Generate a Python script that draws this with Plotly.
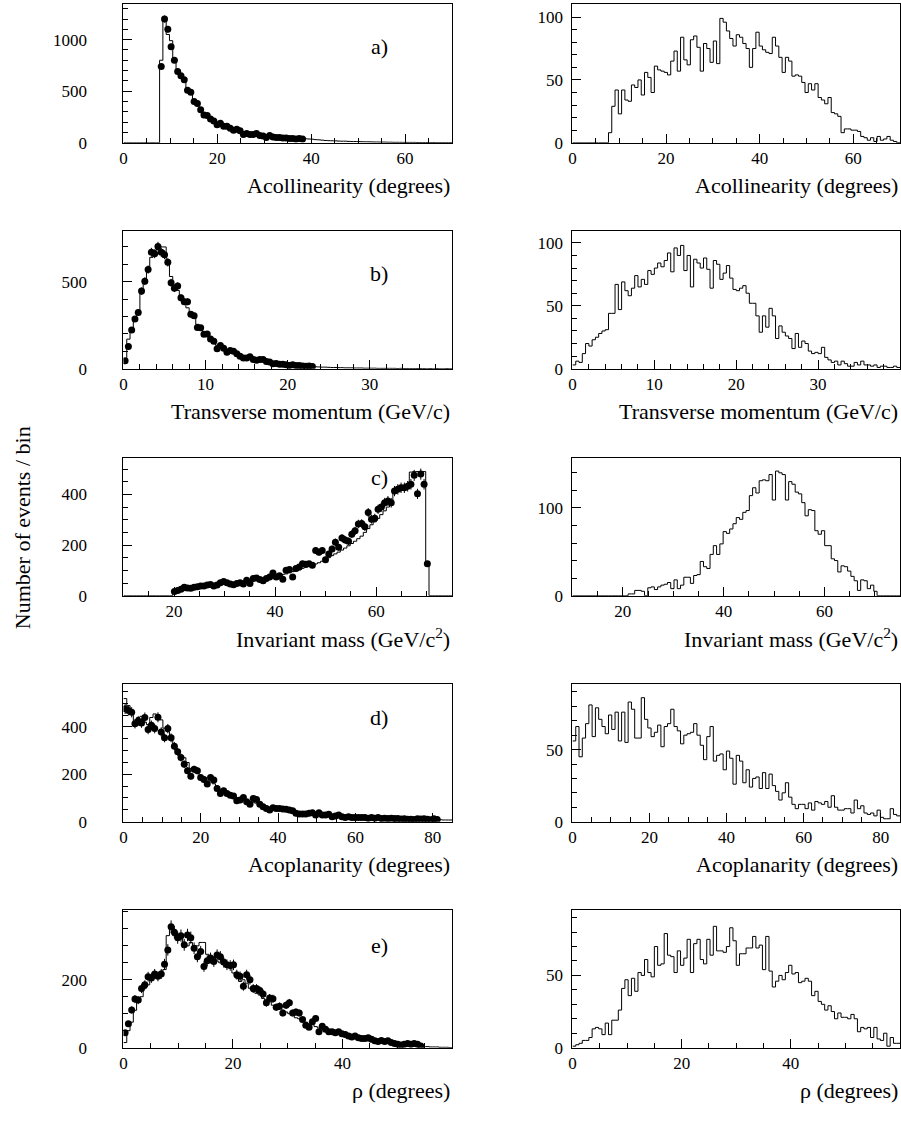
import numpy as np
import plotly.graph_objects as go

FONT = "Liberation Serif, Times New Roman, serif"
W, H = 901, 1128

# ------------------------------------------------------------------ data
# histogram ranges (100 bins each)
ACOL_RANGE = (0.0, 70.0)
PT_RANGE = (0.0, 40.0)
MASS_RANGE = (10.0, 75.0)
ACOP_RANGE = (0.0, 85.0)
RHO_RANGE = (0.0, 60.0)

# a) acollinearity
ACOL_MC = [0] * 11 + [800, 1200, 1050, 990, 800, 700, 640, 590, 520, 470,
                      410, 370, 330, 290, 270, 240, 215, 195, 180, 165,
                      150, 140, 125, 115, 105,
                      95, 90, 85, 80, 76, 70, 66, 62, 60, 55, 52, 50, 47, 45, 43, 42, 41, 40, 39,
                      38, 36, 34, 30, 28, 25, 22, 20, 19, 18, 16, 15, 15, 13, 12, 12, 11, 10, 9, 9,
                      8, 7, 7, 6, 6, 5, 5, 4, 4, 4, 3, 3, 3, 3, 2, 2, 2, 2, 1, 2, 1, 1, 1, 1, 1]
ACOL_DATA_FIRST = 11
ACOL_DATA = [740, 1200, 1100, 930, 800, 690, 650, 610, 510, 490,
             400, 380, 320, 270, 265, 230, 210, 175, 190, 160,
             160, 140, 120, 130, 115, 80, 90, 80, 80, 90,
             70, 65, 50, 70, 55, 50, 50, 45, 45, 40,
             40, 35, 40, 35]
ACOL_SIGNAL = [0] * 11 + [8, 29, 42, 23, 42, 34, 33, 46, 44, 50,
                          38, 56, 52, 40, 61, 58, 57, 56, 54, 65,
                          73, 57, 84, 66, 62, 82, 85, 76, 57, 79,
                          75, 64, 81, 63, 99, 96, 89, 83, 77, 86,
                          84, 79, 75, 60, 75, 88, 77, 74, 72, 71,
                          84, 77, 68, 56, 68, 65, 53, 54, 53, 48,
                          40, 47, 42, 47, 36, 34, 31, 36, 24, 23,
                          21, 8, 11, 11, 10, 10, 9, 5, 4, 2,
                          4, 1, 5, 2, 3, 5, 2, 1, 0]

# b) transverse momentum
PT_MC = [50, 170, 210, 280, 330, 430, 500, 580, 640, 680,
         690, 700, 700, 610, 530, 470, 450, 420, 380, 350,
         320, 290, 255, 230, 210, 190, 165, 150, 135, 125,
         115, 105, 96, 90, 82, 74, 68, 62, 58, 54,
         50, 46, 42, 38, 35, 32, 29, 27, 25, 23,
         21, 19, 18, 16, 15, 14, 13, 12, 11, 10,
         9, 9, 8, 7, 7, 6, 6, 5, 5, 5,
         4, 4, 4, 3, 3, 3, 3, 2, 2, 2,
         2, 2, 2, 1, 2, 1, 1, 1, 1, 1,
         1, 1, 0, 1, 0, 1, 0, 0, 1, 0]
PT_DATA_FIRST = 0
PT_DATA = [45, 127, 222, 285, 323, 446, 503, 570, 669, 661,
           703, 669, 655, 612, 494, 462, 475, 408, 385, 385,
           313, 304, 237, 236, 198, 200, 171, 158, 114, 133,
           118, 95, 104, 101, 86, 72, 61, 61, 68, 53,
           48, 53, 53, 42, 38, 29, 30, 25, 25, 23,
           19, 23, 19, 19, 15, 14, 15, 13]
PT_SIGNAL = [3, 6, 5, 12, 20, 18, 23, 25, 28, 30,
             31, 44, 44, 67, 47, 69, 62, 58, 64, 74,
             65, 71, 67, 78, 75, 80, 84, 81, 86, 92,
             77, 96, 90, 98, 78, 90, 65, 87, 84, 80,
             88, 79, 64, 86, 83, 71, 76, 82, 72, 63,
             62, 64, 66, 60, 52, 52, 42, 29, 42, 33,
             48, 42, 24, 34, 29, 26, 24, 16, 28, 17,
             22, 20, 14, 12, 13, 12, 17, 9, 7, 5,
             6, 3, 6, 4, 2, 2, 5, 3, 6, 3,
             3, 2, 3, 1, 2, 2, 1, 1, 2, 1]

# c) invariant mass
MASS_MC = [0] * 15 + [8, 14, 18, 20, 22, 22, 24, 26, 35, 36,
                      38, 40, 40, 42, 45, 47, 48, 46, 45, 48,
                      50, 52, 55, 57, 60, 62, 64, 72, 70, 68,
                      72, 76, 80, 84, 86, 90, 95, 98, 102, 108,
                      112, 116, 120, 125, 130,
                      136, 142, 150, 158, 165, 172, 180, 188, 197, 206, 215, 225, 235, 250, 265,
                      280, 292, 305, 320, 335, 350, 365, 413, 418, 422, 425, 430, 488, 490, 490, 490,
                      490, 125] + [0] * 7
MASS_DATA_FIRST = 15
MASS_DATA = [16, 20, 25, 33, 30, 29, 33, 35, 38, 38,
             42, 44, 38, 42, 51, 56, 51, 46, 43, 48,
             51, 46, 61, 48, 68, 70, 64, 59, 68, 74,
             90, 74, 79, 65, 100, 103, 74, 107, 113, 126,
             124, 126, 120, 178, 171, 178, 142, 165, 184, 211,
             191, 228, 220, 215, 243, 256, 283, 285, 272, 328,
             302, 306, 341, 350, 367, 374, 367, 413, 420, 426,
             426, 432, 440, 475, 402, 480, 440, 126]
MASS_SIGNAL = [0] * 17 + [2, 2, 6, 6, 5, 0, 9, 10, 7, 10,
                          12, 13, 15, 8, 18, 8, 12, 21, 21, 14,
                          23, 24, 39, 33, 31, 47, 57, 47, 59, 73,
                          71, 76, 82, 89, 87, 95, 97, 114, 123, 117,
                          131, 132, 131, 138, 109, 142, 140, 138, 109, 130,
                          127, 118, 116, 106, 91, 98, 97, 74, 70, 74,
                          57, 57, 42, 40, 27, 34, 33, 28, 22, 17,
                          6, 18, 17, 8, 12, 5] + [0] * 7

# d) acoplanarity
ACOP_MC = [520, 490, 470, 420, 440, 445, 420, 410, 440, 455,
           440, 430, 395, 380, 350, 320, 300, 280, 270, 250,
           225, 215, 205, 195, 185, 172, 168, 160, 150, 135,
           130, 125, 118, 110, 102, 97, 93, 88, 84, 80,
           78, 72, 68, 64, 61, 60, 57, 55, 52, 49,
           46, 43, 40, 38, 37, 36, 35, 33, 32, 31,
           30, 28, 27, 26, 25, 24, 23, 22, 21, 20,
           19, 19, 18, 17, 17, 16, 16, 15, 15, 14,
           14, 13, 13, 12, 12, 12, 11, 11, 10, 10,
           10, 9, 9, 9, 8, 8, 8, 7, 7, 7]
ACOP_DATA_FIRST = 0
ACOP_DATA = [477, 470, 462, 414, 425, 417, 440, 389, 407, 393,
             441, 379, 354, 393, 354, 319, 295, 271, 243, 215,
             192, 221, 215, 187, 178, 159, 187, 176, 140, 119,
             131, 119, 112, 108, 88, 91, 102, 84, 74, 98,
             94, 73, 63, 56, 49, 59, 56, 56, 53, 52,
             49, 46, 35, 32, 32, 32, 35, 38, 28, 38,
             28, 28, 31, 21, 24, 28, 21, 18, 21, 17,
             18, 17, 18, 17, 14, 17, 14, 17, 13, 14,
             13, 14, 13, 13, 11, 12, 10, 10, 9, 12,
             11, 12, 10, 8, 12, 9]
ACOP_SIGNAL = [56, 66, 45, 58, 68, 81, 59, 79, 71, 66,
               61, 74, 64, 76, 56, 76, 55, 83, 78, 58,
               58, 86, 71, 65, 59, 62, 67, 52, 66, 68,
               78, 66, 63, 54, 60, 61, 62, 68, 60, 53,
               43, 59, 66, 42, 46, 47, 36, 49, 44, 26,
               46, 42, 27, 36, 24, 30, 31, 23, 34, 23,
               33, 25, 21, 15, 20, 27, 17, 12, 9, 12,
               12, 9, 13, 8, 14, 13, 12, 14, 10, 18,
               10, 8, 8, 9, 9, 6, 15, 9, 11, 6,
               5, 6, 4, 8, 3, 2, 2, 9, 5, 4]

# e) rho
RHO_MC = [15, 50, 75, 110, 140, 150, 175, 185, 200, 210,
          215, 225, 230, 330, 350, 330, 320, 320, 310, 300,
          310, 300, 300, 310, 310, 275, 270, 265, 255, 250,
          245, 240, 235, 220, 205, 195, 200, 190, 175, 165,
          160, 155, 145, 140, 135, 125, 120, 115, 110, 105,
          100, 95, 88, 85, 80, 75, 70, 68, 62, 58,
          55, 52, 48, 45, 42, 40, 38, 35, 33, 30,
          28, 26, 24, 22, 20, 19, 18, 17, 16, 15,
          14, 13, 12, 11, 10, 9, 8, 7, 6, 5,
          4, 3, 3, 2, 2, 2, 1, 1, 1, 0]
RHO_DATA_FIRST = 0
RHO_DATA = [44, 70, 111, 143, 140, 174, 185, 209, 205, 217,
            210, 217, 246, 288, 356, 340, 324, 330, 303, 332,
            324, 293, 268, 283, 239, 256, 264, 254, 273, 268,
            252, 244, 242, 244, 215, 210, 181, 215, 200, 174,
            174, 168, 158, 132, 146, 144, 119, 122, 102, 125,
            132, 102, 105, 102, 83, 66, 60, 76, 86, 47,
            63, 54, 47, 47, 44, 47, 41, 39, 34, 31,
            34, 29, 27, 27, 29, 25, 20, 18, 21, 18,
            20, 15, 12, 10, 8, 10, 12, 10, 12, 10,
            5]
RHO_SIGNAL = [1, 2, 3, 5, 5, 7, 13, 14, 13, 9,
              17, 9, 19, 19, 26, 41, 47, 36, 48, 39,
              52, 50, 61, 52, 49, 70, 57, 58, 79, 64,
              63, 52, 67, 57, 62, 75, 52, 72, 75, 61,
              58, 75, 64, 84, 67, 67, 66, 70, 83, 74,
              57, 65, 65, 69, 69, 77, 69, 71, 54, 77,
              53, 42, 46, 50, 47, 52, 57, 51, 52, 45,
              46, 48, 46, 36, 39, 32, 30, 26, 29, 25,
              20, 24, 21, 21, 20, 23, 20, 11, 14, 13,
              14, 7, 14, 6, 5, 10, 1, 7, 3, 3]

# tick labels
ACOL_XTICKS = [0, 20, 40, 60]
PT_XTICKS = [0, 10, 20, 30]
MASS_XTICKS = [20, 40, 60]
ACOP_XTICKS = [0, 20, 40, 60, 80]
RHO_XTICKS = [0, 20, 40]
ACOL_YTICKS_L, ACOL_YTICKS_R = [0, 500, 1000], [0, 50, 100]
PT_YTICKS_L, PT_YTICKS_R = [0, 500], [0, 50, 100]
MASS_YTICKS_L, MASS_YTICKS_R = [0, 200, 400], [0, 100]
ACOP_YTICKS_L, ACOP_YTICKS_R = [0, 200, 400], [0, 50]
RHO_YTICKS_L, RHO_YTICKS_R = [0, 200], [0, 50]

TITLES = ["Acollinearity (degrees)", "Transverse momentum (GeV/c)",
          "Invariant mass (GeV/c<sup>2</sup>)", "Acoplanarity (degrees)", "\u03c1 (degrees)"]
TAGS = ["a)", "b)", "c)", "d)", "e)"]
Y_TITLE = "Number of events / bin"

# ------------------------------------------------------------------ layout config
NB = 100


def fit(v):
    v = list(v)
    return (v + [0] * NB)[:NB]


rows = [
    dict(rng=ACOL_RANGE, mc=ACOL_MC, data=ACOL_DATA, first=ACOL_DATA_FIRST, sig=ACOL_SIGNAL,
         xr=(0, 70), xt=ACOL_XTICKS, xm=5, yl=(1346, ACOL_YTICKS_L, 100), yr=(110.5, ACOL_YTICKS_R, 10), tag_dy=43),
    dict(rng=PT_RANGE, mc=PT_MC, data=PT_DATA, first=PT_DATA_FIRST, sig=PT_SIGNAL,
         xr=(0, 40), xt=PT_XTICKS, xm=2, yl=(792, PT_YTICKS_L, 100), yr=(109.5, PT_YTICKS_R, 10), tag_dy=43),
    dict(rng=MASS_RANGE, mc=MASS_MC, data=MASS_DATA, first=MASS_DATA_FIRST, sig=MASS_SIGNAL,
         xr=(10, 75), xt=MASS_XTICKS, xm=5, yl=(544, MASS_YTICKS_L, 50), yr=(157, MASS_YTICKS_R, 20), tag_dy=20),
    dict(rng=ACOP_RANGE, mc=ACOP_MC, data=ACOP_DATA, first=ACOP_DATA_FIRST, sig=ACOP_SIGNAL,
         xr=(0, 85), xt=ACOP_XTICKS, xm=5, yl=(582, ACOP_YTICKS_L, 50), yr=(95.6, ACOP_YTICKS_R, 10), tag_dy=34),
    dict(rng=RHO_RANGE, mc=RHO_MC, data=RHO_DATA, first=RHO_DATA_FIRST, sig=RHO_SIGNAL,
         xr=(0, 60), xt=RHO_XTICKS, xm=5, yl=(406, RHO_YTICKS_L, 50), yr=(95.4, RHO_YTICKS_R, 10), tag_dy=36),
]

TOPS = [4, 233, 462, 690, 918]
BOTTOMS = [144, 372, 601, 829, 1057]
LEFT_X = (120, 450)
RIGHT_X = (571, 900)


def xdom(a, b):
    return [a / W, b / W]


def ydom(t, b):
    return [1 - b / H, 1 - t / H]


def base_axis(tickvals, minor_dtick):
    return dict(showline=True, mirror=True, linecolor="black", linewidth=1,
                ticks="inside", ticklen=9, tickwidth=1, tickcolor="black",
                showgrid=False, zeroline=False, tickmode="array", tickvals=tickvals,
                ticktext=[str(t) for t in tickvals],
                tickfont=dict(family=FONT, size=17, color="black"),
                minor=dict(ticks="inside", ticklen=5, tickwidth=1, tickcolor="black",
                           tickmode="linear", tick0=0, dtick=minor_dtick, showgrid=False),
                fixedrange=True)


fig = go.Figure()
layout = {}
annotations = []


def step_trace(values, rng, n):
    v = fit(values)
    edges = np.linspace(rng[0], rng[1], NB + 1)
    return go.Scatter(x=edges, y=v + [v[-1]], mode="lines", line=dict(color="black", width=1, shape="hv"),
                      xaxis=f"x{n}", yaxis=f"y{n}", hoverinfo="skip", showlegend=False)


for r, cfg in enumerate(rows):
    nl, nr = 2 * r + 1, 2 * r + 2
    lo, hi = cfg["rng"]
    width = (hi - lo) / NB

    # left: MC histogram + data points
    fig.add_trace(step_trace(cfg["mc"], cfg["rng"], nl))
    d = np.array(cfg["data"], dtype=float)
    centers = lo + (cfg["first"] + np.arange(len(d)) + 0.5) * width
    fig.add_trace(go.Scatter(x=centers, y=d, mode="markers",
                             marker=dict(color="black", size=7, line=dict(width=0)),
                             error_y=dict(type="data", array=np.sqrt(d), visible=True,
                                          width=0, thickness=1, color="black"),
                             xaxis=f"x{nl}", yaxis=f"y{nl}", showlegend=False))
    # right: signal histogram
    fig.add_trace(step_trace(cfg["sig"], cfg["rng"], nr))

    for n, (xa, xb), yspec, ystand in ((nl, LEFT_X, cfg["yl"], 32), (nr, RIGHT_X, cfg["yr"], 5)):
        xax = base_axis(cfg["xt"], cfg["xm"])
        xax.update(domain=xdom(xa, xb), range=list(cfg["xr"]), anchor=f"y{n}", ticklabelstandoff=0)
        yax = base_axis(yspec[1], yspec[2])
        yax.update(domain=ydom(TOPS[r], BOTTOMS[r]), range=[0, yspec[0]], anchor=f"x{n}",
                   ticklabelstandoff=ystand)
        layout["xaxis" if n == 1 else f"xaxis{n}"] = xax
        layout["yaxis" if n == 1 else f"yaxis{n}"] = yax

        annotations.append(dict(text=TITLES[r], x=xb / W, y=1 - (BOTTOMS[r] + 43) / H,
                                xref="paper", yref="paper", xanchor="right", yanchor="middle",
                                showarrow=False, font=dict(family=FONT, size=22, color="black")))

    annotations.append(dict(text=TAGS[r], x=377 / W, y=1 - (TOPS[r] + cfg["tag_dy"]) / H,
                            xref="paper", yref="paper", xanchor="center", yanchor="middle",
                            showarrow=False, font=dict(family=FONT, size=22, color="black")))

annotations.append(dict(text=Y_TITLE, x=18 / W, y=1 - 532 / H, xref="paper", yref="paper",
                        xanchor="center", yanchor="middle", textangle=-90, showarrow=False,
                        font=dict(family=FONT, size=22, color="black")))

fig.update_layout(width=W, height=H, margin=dict(l=0, r=0, t=0, b=0),
                  paper_bgcolor="white", plot_bgcolor="white", showlegend=False,
                  annotations=annotations, **layout)

fig.write_html("out.html")
